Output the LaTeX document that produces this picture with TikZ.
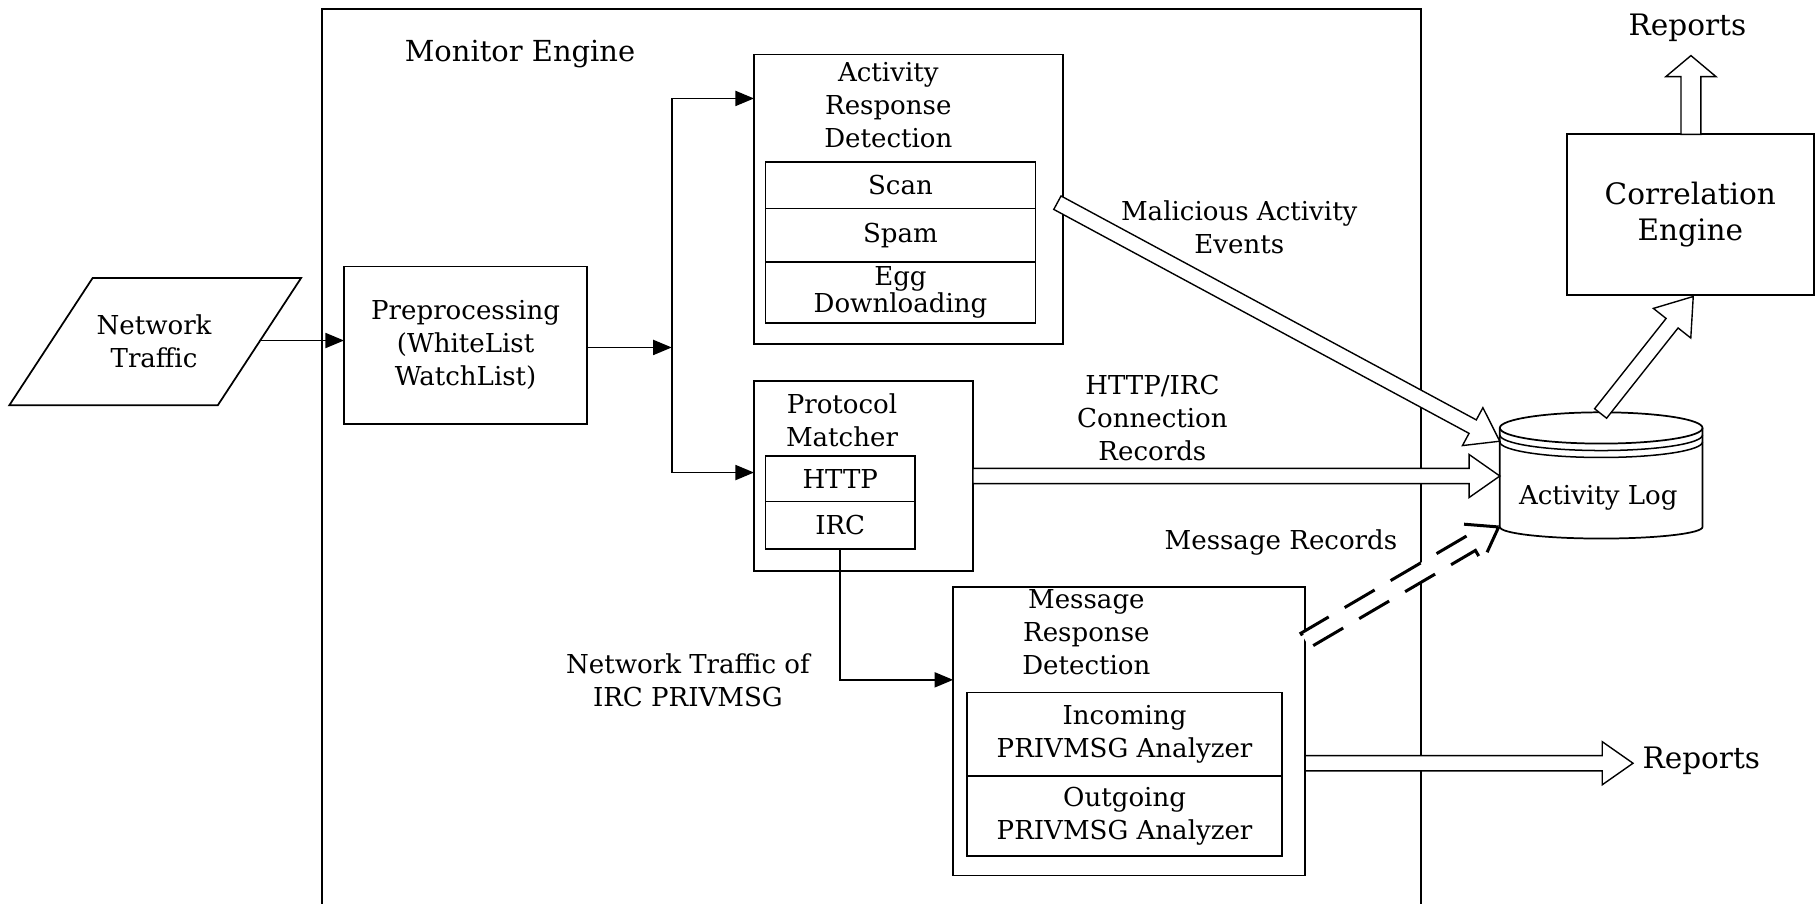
\documentclass[tikz,border=0pt]{standalone}
\usepackage{fontspec}
\setmainfont{DejaVu Serif}
\usetikzlibrary{shapes.arrows,arrows.meta,calc}
\tikzset{
  ln/.style={line width=1.5pt},
  box/.style={draw, line width=1.5pt, inner sep=0pt, outer sep=0pt, align=center},
  lbl/.style={align=center, inner sep=0pt},
  big/.style={font=\fontsize{25.5}{31}\selectfont},
  arr/.style={line width=1.4pt, -{Triangle[length=16pt,width=13pt]}},
  harrow/.style={single arrow, draw, line width=1.2pt, fill=white, inner xsep=0pt, inner ysep=6pt, outer sep=0pt,
    single arrow head extend=12pt, single arrow tip angle=70, anchor=tail},
  darrow/.style={line width=2.6pt, dash pattern=on 30pt off 16pt}
}
\newcommand\harr[3][]{\path let \p1=(#2), \p2=(#3), \n1={atan2(\y2-\y1,\x2-\x1)}, \n2={veclen(\x2-\x1,\y2-\y1)} in node[harrow,#1,rotate=\n1,minimum height=\n2] at (\p1) {};}
\begin{document}
\begin{tikzpicture}[x=1pt,y=-1pt,font=\fontsize{22.5}{28.5}\selectfont]
\useasboundingbox (0,0) rectangle (1568,780);
% monitor engine frame
\draw[ln] (278,800) -- (278,8) -- (1227,8) -- (1227,800);
\node[lbl, font=\fontsize{25}{28.5}\selectfont] (me) at (449,47) {Monitor Engine};
% network traffic
\draw[ln] (80,240) -- (260,240) -- (188,350) -- (8,350) -- cycle;
\node[lbl] (nt) at (133,295) {Network\\Traffic};
\coordinate (ntR) at (224,294);
% preprocessing
\node[box, minimum width=210pt, minimum height=136pt] (pre) at (402,298) {Preprocessing\\(WhiteList\\WatchList)};
% activity response detection
\node[box, minimum width=267pt, minimum height=250pt] (ard) at (784.5,172) {};
\node[lbl] (ardT) at (767,91) {Activity\\Response\\Detection};
\node[box, minimum width=233pt, minimum height=40pt] (scan) at (777.5,160) {Scan};
\node[box, minimum width=233pt, minimum height=46pt] (spam) at (777.5,203) {Spam};
\node[box, minimum width=233pt, minimum height=53pt, font=\fontsize{22.5}{27}\selectfont] (egg) at (777.5,252.5) {\raisebox{-3pt}{Egg}\\Downloading};
% protocol matcher
\node[box, minimum width=189pt, minimum height=164pt] (pm) at (745.5,411) {};
\node[lbl] (pmT) at (727,363) {Protocol\\Matcher};
\node[box, minimum width=129pt, minimum height=39pt] (http) at (725.5,413.5) {HTTP};
\node[box, minimum width=129pt, minimum height=41pt] (irc) at (725.5,453.5) {IRC};
% message response detection
\node[box, minimum width=304pt, minimum height=249pt] (mrd) at (975,631.5) {};
\node[lbl] (mrdT) at (938,546) {Message\\Response\\Detection};
\node[box, minimum width=272pt, minimum height=72pt] (inc) at (971,634) {Incoming\\PRIVMSG Analyzer};
\node[box, minimum width=272pt, minimum height=69pt] (out) at (971,704.5) {Outgoing\\PRIVMSG Analyzer};
\node[lbl] (ntirc) at (594,587) {Network Traffic of\\IRC PRIVMSG};
% correlation engine
\node[box, big, minimum width=213pt, minimum height=139pt] (ce) at (1459.5,185.5) {Correlation\\Engine};
% activity log cylinder
\node[inner sep=0pt, minimum width=175pt, minimum height=109pt] (log) at (1382.5,410.5) {};
\draw[ln] (1295,369.5) -- (1295,455) arc[start angle=180, end angle=360, x radius=87.5pt, y radius=10pt] -- (1470,369.5);
\draw[ln] (1382.5,369.5) ellipse [x radius=87.5pt, y radius=13.5pt];
\draw[line width=1.3pt] (1295,375.5) arc[start angle=180, end angle=360, x radius=87.5pt, y radius=13.5pt];
\draw[line width=1.3pt] (1295,381.5) arc[start angle=180, end angle=360, x radius=87.5pt, y radius=13.5pt];
\node[lbl] (logT) at (1380,430) {Activity Log};
% plain connectors
\coordinate (jn) at (580,300);
\coordinate (j1) at (580,85);
\coordinate (j2) at (580,408);
\coordinate (mrdIn) at (823,587);
\draw[arr] (ntR) -- (ntR -| pre.west);
\draw[arr] (pre.east |- jn) -- (jn);
\draw[ln] (j1) -- (j2);
\draw[arr] (j1) -- (j1 -| ard.west);
\draw[arr] (j2) -- (j2 -| pm.west);
\draw[arr] (irc.south) |- (mrdIn);
% hollow arrows
\coordinate (malS) at (913,175); \coordinate (malE) at (1295,381);
\harr{malS}{malE}
\node[lbl] (malL) at (1070,196) {Malicious Activity\\Events};
\coordinate (httpS) at (840,411); \coordinate (httpE) at (1295,411);
\harr{httpS}{httpE}
\node[lbl] (httpL) at (995,361) {HTTP/IRC\\Connection\\Records};
\coordinate (msgS) at (1127,553); \coordinate (msgE) at (1294,455);
\harr[darrow]{msgS}{msgE}
\node[lbl] (msgL) at (1106,468) {Message Records};
\coordinate (repS) at (1127,659); \coordinate (repE) at (1410,659);
\harr{repS}{repE}
\node[lbl, big, anchor=west] (rep2) at (1418,657) {Reports};
\coordinate (logTop) at (1382,357); \coordinate (ceB) at (1462,256);
\harr[single arrow head extend=14pt]{logTop}{ceB}
\coordinate (ceT) at (1460,116); \coordinate (repT) at (1460,48);
\harr[inner ysep=8pt, single arrow head extend=13pt, single arrow tip angle=100]{ceT}{repT}
\node[lbl, big] (rep1) at (1457,24) {Reports};
\end{tikzpicture}
\end{document}
